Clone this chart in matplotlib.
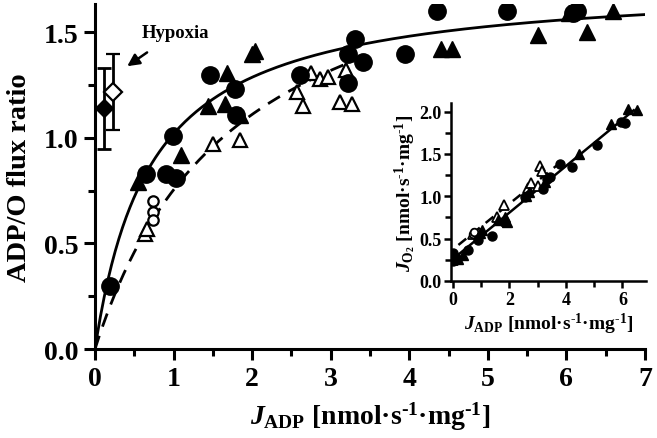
import numpy as np
import matplotlib
matplotlib.use("Agg")
import matplotlib.pyplot as plt
from matplotlib.ticker import MultipleLocator

plt.rcParams['font.family'] = ['Liberation Serif', 'DejaVu Serif']
plt.rcParams['font.weight'] = 'bold'
plt.rcParams['mathtext.fontset'] = 'custom'
plt.rcParams['mathtext.rm'] = 'Liberation Serif:bold'
plt.rcParams['mathtext.it'] = 'Liberation Serif:bold:italic'
plt.rcParams['mathtext.bf'] = 'Liberation Serif:bold'

# ---------------- main panel data ----------------
fc_x = [0.19, 0.65, 0.91, 1.03, 0.99, 1.46, 1.78, 1.79, 2.61, 3.22, 3.31, 3.41, 3.22, 3.94, 4.35, 5.24, 6.08, 6.13]
fc_y = [0.30, 0.83, 0.83, 0.81, 1.01, 1.30, 1.23, 1.11, 1.30, 1.40, 1.47, 1.36, 1.26, 1.40, 1.60, 1.60, 1.59, 1.60]
ft_x = [0.55, 1.10, 1.44, 1.65, 1.68, 1.84, 2.00, 2.04, 4.41, 4.55, 5.64, 6.04, 6.26, 6.59]
ft_y = [0.79, 0.92, 1.15, 1.16, 1.31, 1.11, 1.40, 1.41, 1.42, 1.42, 1.49, 1.59, 1.50, 1.60]
ot_x = [0.64, 0.66, 1.50, 1.84, 2.57, 2.65, 2.75, 2.86, 2.97, 3.12, 3.20, 3.27]
ot_y = [0.545, 0.57, 0.97, 0.99, 1.22, 1.15, 1.31, 1.28, 1.29, 1.17, 1.32, 1.16]
oc_x = [0.74, 0.74, 0.74]
oc_y = [0.70, 0.65, 0.61]

# hypoxia
hyp_x = [0.11, 0.23]
hyp_y = [1.14, 1.22]
hyp_lo = [0.95, 1.04]
hyp_hi = [1.33, 1.40]

# hyperbolic fits  y = Vmax*x/(K+x)
solid_vmax, solid_k = 1.746, 0.712
dash_vmax, dash_k = 2.112, 1.80

# ---------------- inset data ----------------
ic_x = [0.0, 0.0, 0.15, 0.55, 0.9, 1.37, 1.8, 2.55, 3.2, 3.32, 3.45, 3.8, 4.21, 5.1, 5.95, 6.1]
ic_y = [0.33, 0.23, 0.26, 0.36, 0.48, 0.53, 0.70, 0.99, 1.09, 1.20, 1.23, 1.38, 1.34, 1.61, 1.88, 1.87]
it_x = [0.2, 0.35, 0.95, 1.05, 1.6, 1.85, 1.9, 2.6, 2.7, 3.25, 4.45, 5.6, 6.2, 6.5]
it_y = [0.26, 0.30, 0.57, 0.60, 0.72, 0.75, 0.70, 1.00, 1.05, 1.17, 1.50, 1.85, 2.03, 2.02]
iot_x = [0.0, 0.7, 1.55, 1.8, 2.65, 2.75, 3.0, 3.1, 3.15]
iot_y = [0.25, 0.55, 0.75, 0.90, 1.10, 1.15, 1.12, 1.36, 1.30]
ioc_x = [0.7, 0.75]
ioc_y = [0.55, 0.58]

solid_int, solid_slope = 0.255, 0.275
dash_int, dash_slope = 0.37, 0.27

unit = r'[nmol·s$^{\text{-1}}$·mg$^{\text{-1}}$]'

fig = plt.figure(figsize=(6.57, 4.39), dpi=100)
ax = fig.add_axes([0.1446, 0.2027, 0.837, 0.786])

xs = np.linspace(0, 7, 300)
ax.plot(xs, solid_vmax * xs / (solid_k + xs), color='black', lw=2.0, zorder=2)
xd = np.linspace(0, 3.3, 200)
ax.plot(xd, dash_vmax * xd / (dash_k + xd), color='black', lw=2.0, ls=(0, (5, 3.5)), zorder=2)

ax.plot(ot_x, ot_y, '^', ms=10, mfc='white', mec='black', mew=1.6, ls='none', zorder=3)
ax.plot(oc_x, oc_y, 'o', ms=7.5, mfc='white', mec='black', mew=1.6, ls='none', zorder=3)
ax.plot(ft_x, ft_y, '^', ms=11.5, color='black', ls='none', zorder=4)
ax.plot(fc_x, fc_y, 'o', ms=12.5, color='black', ls='none', zorder=4)

lo_err = [hyp_y[i] - hyp_lo[i] for i in range(2)]
hi_err = [hyp_hi[i] - hyp_y[i] for i in range(2)]
ax.errorbar(hyp_x[0], hyp_y[0], yerr=[[lo_err[0]], [hi_err[0]]], fmt='D', ms=9,
            mfc='black', mec='black', ecolor='black', elinewidth=2, capsize=5, capthick=2, zorder=5)
ax.errorbar(hyp_x[1], hyp_y[1], yerr=[[lo_err[1]], [hi_err[1]]], fmt='D', ms=9,
            mfc='white', mec='black', mew=1.6, ecolor='black', elinewidth=2, capsize=5, capthick=2, zorder=5)
ax.annotate('Hypoxia', xy=(0.41, 1.34), xytext=(1.03, 1.50), ha='center', va='center',
            fontsize=13.5, fontweight='bold',
            arrowprops=dict(arrowstyle='-|>', color='black', lw=1.8, mutation_scale=18,
                            shrinkA=11, shrinkB=0))

ax.set_xlim(0, 7)
ax.set_ylim(0, 1.635)
ax.xaxis.set_major_locator(MultipleLocator(1))
ax.xaxis.set_minor_locator(MultipleLocator(0.5))
ax.yaxis.set_major_locator(MultipleLocator(0.5))
ax.yaxis.set_minor_locator(MultipleLocator(0.25))
ax.yaxis.set_major_formatter(matplotlib.ticker.FormatStrFormatter('%.1f'))
for s in ['top', 'right']:
    ax.spines[s].set_visible(False)
for s in ['left', 'bottom']:
    ax.spines[s].set_linewidth(2.2)
ax.tick_params(which='major', direction='out', length=8, width=2.2, labelsize=20, pad=4)
ax.tick_params(which='minor', direction='out', length=5, width=2.2)
for lab in ax.get_xticklabels() + ax.get_yticklabels():
    lab.set_fontweight('bold')
ax.set_xlabel(r'$J_{\rm ADP}$ ' + unit, fontsize=20, fontweight='bold', labelpad=6)
ax.set_ylabel('ADP/O flux ratio', fontsize=20.5, fontweight='bold', labelpad=8)

# ---------------- inset ----------------
ins = fig.add_axes([0.687, 0.358, 0.297, 0.405])
ins.patch.set_alpha(0)
xi = np.linspace(0, 6.4, 50)
ins.plot(xi, solid_int + solid_slope * xi, color='black', lw=1.8, zorder=2)
xid = np.linspace(0.2, 3.9, 50)
ins.plot(xid, dash_int + dash_slope * xid, color='black', lw=1.8, ls=(0, (4, 3)), zorder=2)
ins.plot(iot_x, iot_y, '^', ms=6.5, mfc='white', mec='black', mew=1.3, ls='none', zorder=3)
ins.plot(ioc_x, ioc_y, 'o', ms=5.5, mfc='white', mec='black', mew=1.3, ls='none', zorder=3)
ins.plot(it_x, it_y, '^', ms=7, color='black', ls='none', zorder=4)
ins.plot(ic_x, ic_y, 'o', ms=6.5, color='black', ls='none', zorder=4)

ins.set_xlim(-0.05, 6.85)
ins.set_ylim(0, 2.1)
ins.xaxis.set_major_locator(MultipleLocator(2))
ins.xaxis.set_minor_locator(MultipleLocator(1))
ins.yaxis.set_major_locator(MultipleLocator(0.5))
ins.yaxis.set_minor_locator(MultipleLocator(0.25))
ins.yaxis.set_major_formatter(matplotlib.ticker.FormatStrFormatter('%.1f'))
for s in ['top', 'right']:
    ins.spines[s].set_visible(False)
for s in ['left', 'bottom']:
    ins.spines[s].set_linewidth(1.8)
ins.tick_params(which='major', direction='out', length=5, width=1.8, labelsize=13, pad=2)
ins.tick_params(which='minor', direction='out', length=4, width=1.8)
for lab in ins.get_xticklabels() + ins.get_yticklabels():
    lab.set_fontweight('bold')
ins.set_xlabel(r'$J_{\rm ADP}$ ' + unit, fontsize=14, fontweight='bold', labelpad=2)
ins.set_ylabel(r'$J_{\rm O_2}$ ' + unit, fontsize=14, fontweight='bold', labelpad=1)

fig.savefig('out.png', dpi=100)
